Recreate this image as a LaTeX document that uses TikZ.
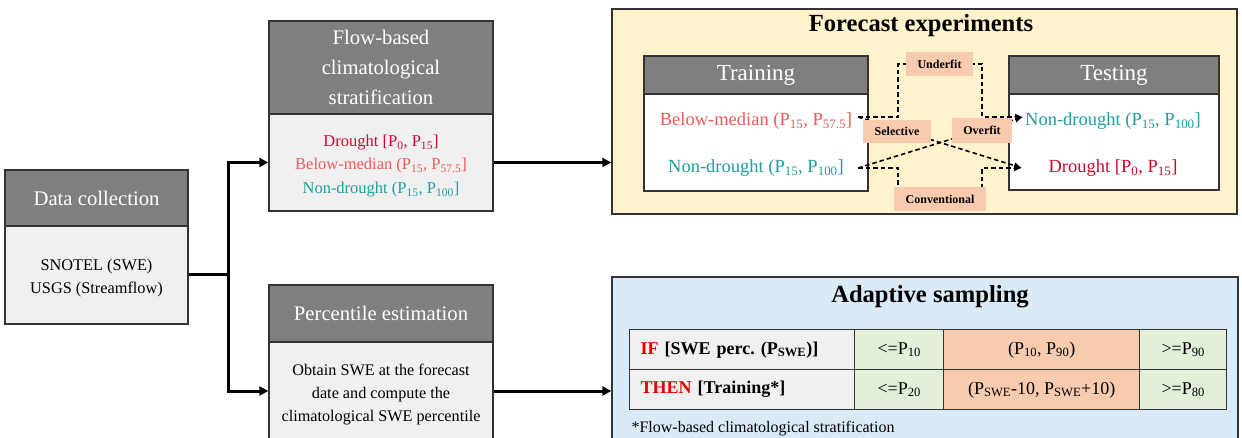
\documentclass[tikz,border=0pt]{standalone}
\usepackage{fontspec}
\setmainfont{Liberation Serif}
\usetikzlibrary{arrows.meta,calc}
\definecolor{hdrgray}{HTML}{7F7F7F}
\definecolor{edge}{HTML}{333333}
\definecolor{bodygray}{HTML}{F0F0F0}
\definecolor{fcyellow}{HTML}{FFF2CC}
\definecolor{adblue}{HTML}{DAEAF6}
\definecolor{orng}{HTML}{F9CBAE}
\definecolor{grn}{HTML}{E2F0D9}
\definecolor{drred}{HTML}{CC0A2F}
\definecolor{bmred}{HTML}{EE5A5A}
\definecolor{teal}{HTML}{1F9E9E}
\definecolor{ifred}{HTML}{E60000}
\tikzset{
  box/.style={draw=edge, line width=1.4pt, inner sep=0pt, align=center},
  hdr/.style={box, fill=hdrgray, text=white, font=\fontsize{20.7}{30}\selectfont},
  bodyg/.style={box, fill=bodygray},
  btext/.style={inner sep=0pt, align=center, font=\fontsize{16.3}{22.5}\selectfont},
  thickline/.style={line width=3pt},
  flow/.style={line width=3pt, -{Triangle[length=9pt,width=9pt]}},
  dsh/.style={line width=1.6pt, dash pattern=on 4.5pt off 3pt, -{Latex[length=8pt,width=7pt]}},
  lab/.style={fill=orng, font=\bfseries\fontsize{12}{14}\selectfont, inner sep=0pt},
  cell/.style={draw=edge, line width=1.4pt, minimum height=40pt, inner sep=0pt, font=\fontsize{18}{20}\selectfont},
  fctext/.style={font=\fontsize{18.5}{20}\selectfont},
  title/.style={font=\bfseries\fontsize{24.6}{28}\selectfont},
}
\begin{document}
\frenchspacing
\begin{tikzpicture}[x=1pt,y=-1pt]
\path[use as bounding box] (0,0) rectangle (1242,438);
\clip (0,0) rectangle (1242,438);

% Data collection
\node[hdr, minimum width=183pt, minimum height=56pt] (dch) at (96.5,198) {Data collection};
\node[bodyg, minimum width=183pt, minimum height=98pt] (dcb) at (96.5,275) {};
\node[btext] (dct) at (96.5,278) {SNOTEL (SWE)\\USGS (Streamflow)};

% Flow-based stratification
\node[hdr, minimum width=224pt, minimum height=93pt] (fbh) at (381,67.5) {Flow-based\\climatological\\stratification};
\node[bodyg, minimum width=224pt, minimum height=97pt] (fbb) at (381,162.5) {};
\node[btext, font=\fontsize{16.5}{23.5}\selectfont] (fbt) at (381,166)
  {\textcolor{drred}{Drought [P\textsubscript{0}, P\textsubscript{15}]}\\
   \textcolor{bmred}{Below-median (P\textsubscript{15}, P\textsubscript{57.5}]}\\
   \textcolor{teal}{Non-drought (P\textsubscript{15}, P\textsubscript{100}]}};

% Percentile estimation
\node[hdr, minimum width=224pt, minimum height=57pt] (peh) at (381,313.5) {Percentile estimation};
\node[bodyg, minimum width=224pt, minimum height=98pt] (peb) at (381,391) {};
\node[btext, font=\fontsize{16.2}{23}\selectfont] (pet) at (381,394.5)
  {Obtain SWE at the forecast\\date and compute the\\climatological SWE percentile};

% Forecast experiments
\node[box, fill=fcyellow, minimum width=625pt, minimum height=205pt] (fc) at (924.5,111.5) {};
\node[title, anchor=base] (fct) at (921,32) {Forecast experiments};
\node[hdr, minimum width=224pt, minimum height=38pt, font=\fontsize{23}{26}\selectfont] (trh) at (756,75) {Training};
\node[box, fill=white, minimum width=224pt, minimum height=97pt] (trb) at (756,142.5) {};
\node[hdr, minimum width=210pt, minimum height=38pt, font=\fontsize{23}{26}\selectfont] (teh) at (1114,75) {Testing};
\node[box, fill=white, minimum width=210pt, minimum height=96pt] (teb) at (1114,142) {};
\node[fctext, anchor=base, text=bmred] (trbm) at (756,126) {Below-median (P\textsubscript{15}, P\textsubscript{57.5}]};
\node[fctext, anchor=base, text=teal] (trnd) at (756,173) {Non-drought (P\textsubscript{15}, P\textsubscript{100}]};
\node[fctext, anchor=base, text=teal] (tend) at (1113,126) {Non-drought (P\textsubscript{15}, P\textsubscript{100}]};
\node[fctext, anchor=base, text=drred] (tedr) at (1113,173) {Drought [P\textsubscript{0}, P\textsubscript{15}]};

\coordinate (bmT) at (858,117);
\coordinate (ndT) at (858,168);
\coordinate (ndS) at (1023,117);
\coordinate (drS) at (1022,168);
\coordinate (ufc) at (939.5,64);
\coordinate (cvc) at (940,199);

\draw[dsh] (bmT) -- ++(40,0) |- (ufc) -| ($(ndS)+(-41,0)$) -- (ndS);
\draw[dsh] (ndT) -- ++(40,0) |- (cvc) -| ($(drS)+(-40,0)$) -- (drS);
\draw[dsh] (bmT) -- (drS);
\draw[dsh] (ndT) -- (ndS);

\node[lab, minimum width=67pt, minimum height=24pt] (uf) at (ufc) {Underfit};
\node[lab, minimum width=92pt, minimum height=24pt] (cv) at (cvc) {Conventional};
\node[lab, minimum width=68pt, minimum height=23pt] (sel) at (897,131.5) {Selective};
\node[lab, minimum width=60pt, minimum height=25pt] (ovf) at (982,130.5) {Overfit};

% Adaptive sampling
\node[box, fill=adblue, minimum width=626pt, minimum height=175pt] (ad) at (925,364.5) {};
\node[title, anchor=base] (adt) at (930,303) {Adaptive sampling};

\node[cell, fill=bodygray, minimum width=225pt, text width=203pt, align=left, anchor=north west] (c11) at (629,329)
  {\textbf{\textcolor{ifred}{IF} [SWE perc. (P\textsubscript{SWE})]}};
\node[cell, fill=grn, minimum width=89pt, anchor=north west] (c12) at (854,329) {<=P\textsubscript{10}};
\node[cell, fill=orng, minimum width=196pt, anchor=north west] (c13) at (943,329) {(P\textsubscript{10}, P\textsubscript{90})};
\node[cell, fill=grn, minimum width=87pt, anchor=north west] (c14) at (1139,329) {>=P\textsubscript{90}};
\node[cell, fill=bodygray, minimum width=225pt, text width=203pt, align=left, anchor=north west] (c21) at (629,369)
  {\textbf{\textcolor{ifred}{THEN} [Training*]}};
\node[cell, fill=grn, minimum width=89pt, anchor=north west] (c22) at (854,369) {<=P\textsubscript{20}};
\node[cell, fill=orng, minimum width=196pt, anchor=north west] (c23) at (943,369) {(P\textsubscript{SWE}-10, P\textsubscript{SWE}+10)};
\node[cell, fill=grn, minimum width=87pt, anchor=north west] (c24) at (1139,369) {>=P\textsubscript{80}};
\node[anchor=base west, font=\fontsize{16}{18}\selectfont] (fn) at (628,432) {*Flow-based climatological stratification};

% Main connectors
\coordinate (split) at (228,275);
\draw[thickline] (dcb.east) -- (split);
\draw[flow] (split) |- (fbb.west);
\draw[flow] (split) |- (peb.west);
\draw[flow] (fbb.east) -- (fbb.east -| fc.west);
\draw[flow] (peb.east) -- (peb.east -| ad.west);
\end{tikzpicture}
\end{document}
